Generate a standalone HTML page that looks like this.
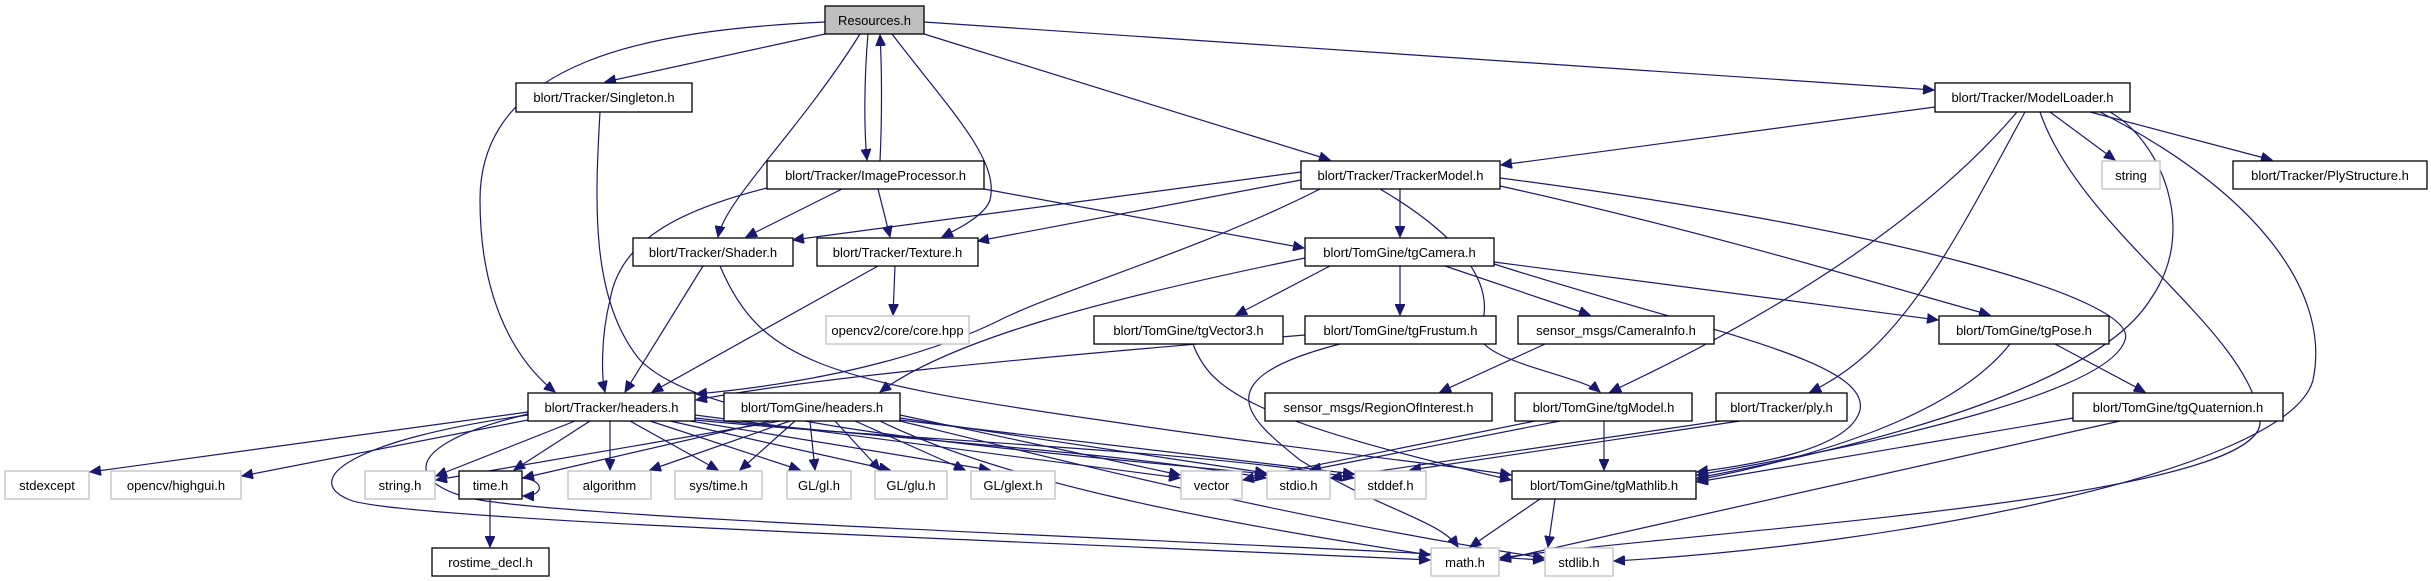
<!DOCTYPE html>
<html><head><meta charset="utf-8"><style>
html,body{margin:0;padding:0;background:#fff;}
svg{display:block;}
text{font-family:"Liberation Sans","DejaVu Sans",sans-serif;font-size:13px;fill:#000;}
.n rect{fill:#fff;stroke:#000;stroke-width:1.3;}
.g rect{fill:#fff;stroke:#bfbfbf;stroke-width:1.3;}
.e{fill:none;stroke:#191970;stroke-width:1.2;}
</style></head><body>
<svg width="2431" height="581" viewBox="0 0 2431 581" xmlns="http://www.w3.org/2000/svg">
<defs><marker id="a" markerWidth="12" markerHeight="10" refX="11" refY="5" orient="auto" markerUnits="userSpaceOnUse"><path d="M0,0 L11,5 L0,10 z" fill="#191970" stroke="#191970"/></marker></defs>
<g class="e" marker-end="url(#a)">
<path d="M825,34 L605,82"/>
<path d="M825,22 C650,30 480,60 480,200 C480,330 540,380 555,392"/>
<path d="M860,34 C800,130 725,200 718,237"/>
<path d="M868,34 C864,80 864,130 867,160"/>
<path d="M880,161 C882,120 882,70 880,35"/>
<path d="M892,34 C950,110 1000,160 990,200 C985,215 960,228 942,237"/>
<path d="M924,34 L1330,160"/>
<path d="M924,22 L1934,90"/>
<path d="M600,112 C595,200 590,300 640,360 C700,420 900,440 1267,474"/>
<path d="M767,188 C680,210 620,240 610,300 C600,340 602,380 605,392"/>
<path d="M842,189 L746,237"/>
<path d="M878,189 L890,237"/>
<path d="M984,189 L1304,248"/>
<path d="M703,266 L625,392"/>
<path d="M720,266 C760,360 820,380 1100,420 C1300,450 1450,465 1511,475"/>
<path d="M878,266 L652,392"/>
<path d="M895,266 L893,315"/>
<path d="M1301,172 L793,240"/>
<path d="M1301,180 L978,241"/>
<path d="M1400,189 L1400,237"/>
<path d="M1320,189 C1200,250 1060,290 1000,320 C950,345 850,380 696,394"/>
<path d="M1380,189 C1450,230 1500,280 1480,330 C1470,360 1580,375 1600,392"/>
<path d="M1500,186 C1700,230 1900,290 1990,315"/>
<path d="M1500,178 C1900,230 2140,300 2125,340 C2110,390 1900,440 1697,475"/>
<path d="M1305,258 C1100,300 950,340 880,392"/>
<path d="M1330,266 L1236,315"/>
<path d="M1400,266 L1400,315"/>
<path d="M1445,266 L1590,315"/>
<path d="M1494,262 L1938,320"/>
<path d="M1494,264 C1700,330 1870,360 1860,410 C1850,450 1750,465 1697,472"/>
<path d="M1935,107 L1501,165"/>
<path d="M2050,112 L2115,160"/>
<path d="M2090,112 L2272,160"/>
<path d="M2017,112 C1900,250 1700,350 1610,392"/>
<path d="M2025,112 C1950,250 1900,350 1810,392"/>
<path d="M2100,112 C2270,200 2330,300 2313,380 C2290,470 1900,545 1614,561"/>
<path d="M2110,112 C2160,140 2200,230 2150,300 C2100,380 1900,440 1697,478"/>
<path d="M2040,112 C2080,230 2250,330 2260,420 C2270,500 1700,530 1500,558"/>
<path d="M1193,344 C1210,390 1250,420 1511,480"/>
<path d="M1305,335 C1000,360 800,380 696,400"/>
<path d="M1340,344 C1200,380 1250,420 1300,460 C1380,510 1440,520 1458,547"/>
<path d="M1545,344 L1440,392"/>
<path d="M2010,344 C1950,420 1800,460 1697,480"/>
<path d="M2055,344 L2145,392"/>
<path d="M1535,421 L1243,480"/>
<path d="M1560,421 L1310,470"/>
<path d="M1604,421 L1604,470"/>
<path d="M1720,421 L1331,478"/>
<path d="M1740,421 L1410,470"/>
<path d="M2073,418 L1697,482"/>
<path d="M2120,421 L1500,560"/>
<path d="M1540,499 L1470,547"/>
<path d="M1555,499 L1548,547"/>
<path d="M522,478 C545,480 545,496 523,496"/>
<path d="M490,499 L490,547"/>
<path d="M528,412 L90,472"/>
<path d="M528,420 L242,476"/>
<path d="M575,421 L436,476"/>
<path d="M590,421 L514,470"/>
<path d="M610,421 L610,470"/>
<path d="M630,421 L718,470"/>
<path d="M650,421 L800,470"/>
<path d="M670,421 L890,470"/>
<path d="M690,421 L990,470"/>
<path d="M695,415 L1180,478"/>
<path d="M695,418 C900,440 1100,450 1266,478"/>
<path d="M695,420 C900,440 1200,450 1354,478"/>
<path d="M528,415 C350,440 300,480 350,500 C400,520 1000,540 1430,560"/>
<path d="M528,414 C380,450 420,490 480,500 C600,520 1200,540 1544,560"/>
<path d="M780,421 L436,480"/>
<path d="M770,421 L523,478"/>
<path d="M790,421 L650,470"/>
<path d="M795,421 L740,470"/>
<path d="M810,421 L815,470"/>
<path d="M835,421 L880,470"/>
<path d="M855,421 L965,470"/>
<path d="M900,415 L1180,475"/>
<path d="M900,418 L1266,473"/>
<path d="M900,420 L1354,474"/>
<path d="M880,421 C1000,480 1200,520 1430,555"/>
<path d="M900,421 C1100,470 1300,520 1544,558"/>
</g>
<g text-anchor="middle">
<g class="n"><rect x="825" y="6" width="99" height="28" style="fill:#bfbfbf"/><text x="874.5" y="25">Resources.h</text></g>
<g class="n"><rect x="516" y="83" width="176" height="29"/><text x="604" y="102">blort/Tracker/Singleton.h</text></g>
<g class="n"><rect x="1935" y="83" width="195" height="29"/><text x="2032.5" y="102">blort/Tracker/ModelLoader.h</text></g>
<g class="n"><rect x="767" y="161" width="217" height="28"/><text x="875.5" y="180">blort/Tracker/ImageProcessor.h</text></g>
<g class="n"><rect x="1301" y="161" width="199" height="28"/><text x="1400.5" y="180">blort/Tracker/TrackerModel.h</text></g>
<g class="g"><rect x="2102" y="161" width="58" height="28"/><text x="2131" y="180">string</text></g>
<g class="n"><rect x="2233" y="161" width="194" height="28"/><text x="2330" y="180">blort/Tracker/PlyStructure.h</text></g>
<g class="n"><rect x="633" y="238" width="160" height="28"/><text x="713" y="257">blort/Tracker/Shader.h</text></g>
<g class="n"><rect x="817" y="238" width="161" height="28"/><text x="897.5" y="257">blort/Tracker/Texture.h</text></g>
<g class="n"><rect x="1305" y="238" width="189" height="28"/><text x="1399.5" y="257">blort/TomGine/tgCamera.h</text></g>
<g class="g"><rect x="826" y="316" width="143" height="28"/><text x="897.5" y="335">opencv2/core/core.hpp</text></g>
<g class="n"><rect x="1094" y="316" width="189" height="28"/><text x="1188.5" y="335">blort/TomGine/tgVector3.h</text></g>
<g class="n"><rect x="1305" y="316" width="191" height="28"/><text x="1400.5" y="335">blort/TomGine/tgFrustum.h</text></g>
<g class="n"><rect x="1518" y="316" width="196" height="28"/><text x="1616" y="335">sensor_msgs/CameraInfo.h</text></g>
<g class="n"><rect x="1939" y="316" width="170" height="28"/><text x="2024" y="335">blort/TomGine/tgPose.h</text></g>
<g class="n"><rect x="528" y="393" width="167" height="28"/><text x="611.5" y="412">blort/Tracker/headers.h</text></g>
<g class="n"><rect x="724" y="393" width="176" height="28"/><text x="812" y="412">blort/TomGine/headers.h</text></g>
<g class="n"><rect x="1265" y="393" width="227" height="28"/><text x="1378.5" y="412">sensor_msgs/RegionOfInterest.h</text></g>
<g class="n"><rect x="1515" y="393" width="177" height="28"/><text x="1603.5" y="412">blort/TomGine/tgModel.h</text></g>
<g class="n"><rect x="1716" y="393" width="131" height="28"/><text x="1781.5" y="412">blort/Tracker/ply.h</text></g>
<g class="n"><rect x="2073" y="393" width="210" height="28"/><text x="2178" y="412">blort/TomGine/tgQuaternion.h</text></g>
<g class="g"><rect x="5" y="471" width="84" height="28"/><text x="47" y="490">stdexcept</text></g>
<g class="g"><rect x="111" y="471" width="130" height="28"/><text x="176" y="490">opencv/highgui.h</text></g>
<g class="g"><rect x="365" y="471" width="70" height="28"/><text x="400" y="490">string.h</text></g>
<g class="n"><rect x="459" y="471" width="63" height="28"/><text x="490.5" y="490">time.h</text></g>
<g class="g"><rect x="568" y="471" width="83" height="28"/><text x="609.5" y="490">algorithm</text></g>
<g class="g"><rect x="675" y="471" width="87" height="28"/><text x="718.5" y="490">sys/time.h</text></g>
<g class="g"><rect x="787" y="471" width="64" height="28"/><text x="819" y="490">GL/gl.h</text></g>
<g class="g"><rect x="875" y="471" width="72" height="28"/><text x="911" y="490">GL/glu.h</text></g>
<g class="g"><rect x="971" y="471" width="84" height="28"/><text x="1013" y="490">GL/glext.h</text></g>
<g class="g"><rect x="1181" y="471" width="61" height="28"/><text x="1211.5" y="490">vector</text></g>
<g class="g"><rect x="1267" y="471" width="63" height="28"/><text x="1298.5" y="490">stdio.h</text></g>
<g class="g"><rect x="1355" y="471" width="71" height="28"/><text x="1390.5" y="490">stddef.h</text></g>
<g class="n"><rect x="1512" y="471" width="184" height="28"/><text x="1604" y="490">blort/TomGine/tgMathlib.h</text></g>
<g class="n"><rect x="432" y="548" width="117" height="28"/><text x="490.5" y="567">rostime_decl.h</text></g>
<g class="g"><rect x="1431" y="548" width="68" height="28"/><text x="1465" y="567">math.h</text></g>
<g class="g"><rect x="1545" y="548" width="68" height="28"/><text x="1579" y="567">stdlib.h</text></g>
</g>
</svg>
</body></html>
